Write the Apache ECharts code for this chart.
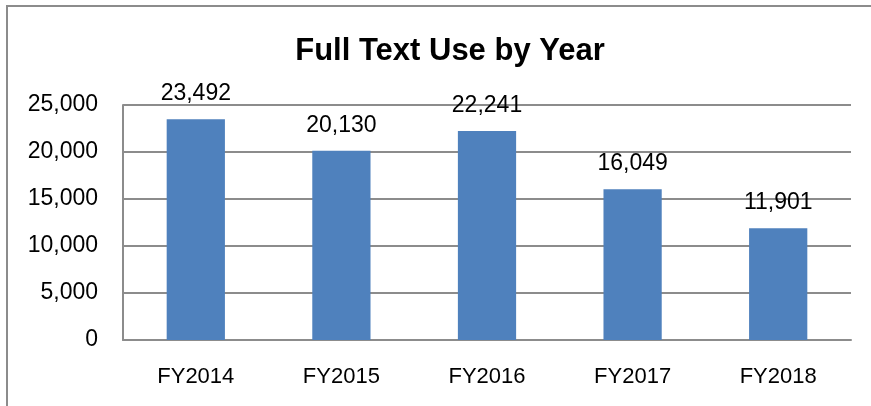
<!DOCTYPE html>
<html>

<head>
  <meta charset="utf-8">
  <title>Full Text Use by Year</title>
  <script src="https://cdn.jsdelivr.net/npm/echarts@6/dist/echarts.min.js"></script>
</head>

<body style="margin:0">
  <div id="main" style="width:871px;height:406px;"></div>
  <script type="text/javascript">
    var years = ['FY2014', 'FY2015', 'FY2016', 'FY2017', 'FY2018'];
    var uses = [23492, 20130, 22241, 16049, 11901];

    var myChart = echarts.init(document.getElementById('main'));

    function fmt(v) {
      return v.toLocaleString('en-US');
    }

    var option = {
      backgroundColor: '#fff',
      textStyle: { fontFamily: 'Liberation Sans' },
      title: {
        text: 'Full Text Use by Year',
        left: 445,
        textAlign: 'center',
        top: 31,
        textStyle: { fontSize: 31, fontWeight: 'bold', color: '#000', fontFamily: 'Liberation Sans' }
      },
      graphic: [{
        type: 'rect',
        shape: { x: 7, y: 6, width: 900, height: 440 },
        style: { fill: 'none', stroke: '#8c8c8c', lineWidth: 2 },
        silent: true
      }],
      grid: { left: 123, right: 20, top: 105, bottom: 66 },
      xAxis: {
        type: 'category',
        data: years,
        axisTick: { show: false },
        axisLine: { lineStyle: { color: '#8c8c8c', width: 2 } },
        axisLabel: { color: '#000', fontSize: 22, margin: 26 }
      },
      yAxis: {
        type: 'value',
        min: 0,
        max: 25000,
        interval: 5000,
        axisLine: { show: true, lineStyle: { color: '#8c8c8c', width: 2 } },
        axisTick: { show: false },
        splitLine: { lineStyle: { color: '#8c8c8c', width: 2 } },
        axisLabel: { color: '#000', fontSize: 23, margin: 25, formatter: fmt }
      },
      series: [{
        type: 'bar',
        data: uses,
        barWidth: '40%',
        itemStyle: { color: '#4F81BD' },
        label: {
          show: true,
          position: 'top',
          distance: 14,
          color: '#000',
          fontSize: 23,
          formatter: function (p) { return fmt(p.value); }
        }
      }]
    };

    myChart.setOption(option);
  </script>
</body>

</html>
